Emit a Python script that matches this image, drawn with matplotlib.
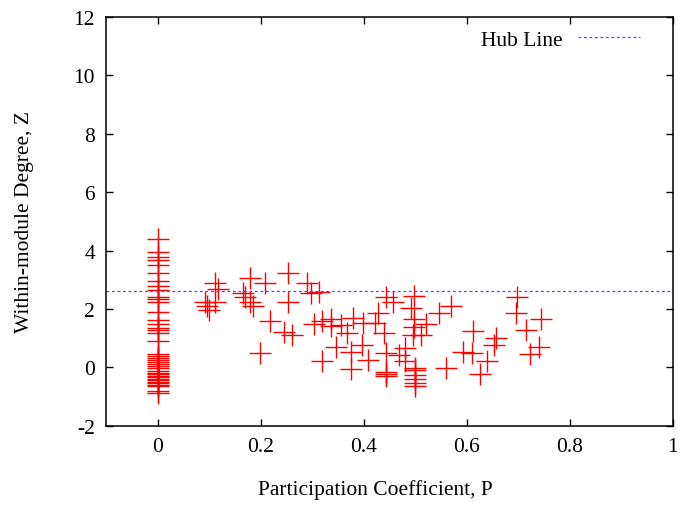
import numpy as np
import matplotlib
matplotlib.use("Agg")
import matplotlib.pyplot as plt

# nodes with P = 0 (single-module nodes)
z_at_zero = [4.38, 3.94, 3.79, 3.66, 3.52, 3.24, 2.95, 2.80, 2.66, 2.40, 2.34, 2.25,
             1.88, 1.63, 1.47, 1.34, 1.29, 1.19, 0.90, 0.45, 0.40, 0.33, 0.26, 0.19,
             0.12, 0.03, -0.03, -0.14, -0.19, -0.24, -0.29, -0.34, -0.39, -0.44,
             -0.49, -0.55, -0.60, -0.65, -0.81, -0.88]

# the other nodes
p_vals = [0.111, 0.117, 0.092, 0.111, 0.095, 0.099, 0.180, 0.208, 0.166, 0.169,
          0.180, 0.185, 0.219, 0.245, 0.198, 0.254, 0.290, 0.298, 0.314, 0.254,
          0.260, 0.304, 0.320, 0.337, 0.337, 0.356, 0.368, 0.380, 0.398, 0.422,
          0.427, 0.346, 0.396, 0.375, 0.375, 0.320, 0.408, 0.443, 0.457, 0.439,
          0.498, 0.492, 0.498, 0.521, 0.498, 0.512, 0.495, 0.546, 0.569, 0.444,
          0.444, 0.444, 0.444, 0.469, 0.480, 0.480, 0.500, 0.500, 0.500, 0.500,
          0.500, 0.500, 0.559, 0.593, 0.698, 0.695, 0.745, 0.716, 0.612, 0.656,
          0.653, 0.611, 0.640, 0.625, 0.741, 0.722]
z_vals = [2.88, 2.67, 2.23, 2.23, 2.10, 1.96, 3.05, 2.88, 2.56, 2.40,
          2.23, 2.10, 1.57, 1.22, 0.48, 3.24, 2.88, 2.56, 2.57, 2.23,
          1.11, 1.48, 1.57, 1.64, 1.41, 1.45, 1.19, 1.68, 1.53, 1.51,
          1.85, 0.71, 0.76, 0.51, -0.07, 0.20, 0.25, 2.40, 2.23, 1.19,
          2.44, 2.04, 1.64, 1.47, 1.37, 1.11, 1.11, 1.85, 2.10, 0.50,
          -0.15, -0.23, -0.31, 0.42, 0.67, 0.20, -0.01, -0.09, -0.26, -0.41,
          -0.55, -0.63, -0.03, 0.51, 2.40, 1.85, 1.65, 1.28, 1.24, 1.02,
          0.76, 0.48, 0.23, -0.23, 0.71, 0.46]

hub_z = 2.6

plt.rcParams['font.family'] = ['Liberation Serif', 'DejaVu Serif']
plt.rcParams['font.size'] = 15.5
plt.rcParams['axes.unicode_minus'] = False

fig = plt.figure(figsize=(6.81, 5.06), dpi=100)
ax = fig.add_axes([0.1557, 0.1567, 0.8323, 0.8077])

p_all = [0.0] * len(z_at_zero) + p_vals
z_all = z_at_zero + z_vals
ax.plot(p_all, z_all, linestyle='none', marker='+', color='red',
        markersize=16.5, markeredgewidth=1.0)
ax.axhline(hub_z, color='#4a4aff', linewidth=0.9, dashes=(2.2, 2.2),
           label='Hub Line')

ax.set_xlim(-0.1, 1.0)
ax.set_ylim(-2, 12)
ax.set_xticks([0, 0.2, 0.4, 0.6, 0.8, 1])
ax.set_xticklabels(['0', '0.2', '0.4', '0.6', '0.8', '1'])
ax.set_yticks(range(-2, 13, 2))
ax.tick_params(direction='in', top=True, right=True, length=5, width=1,
               labelsize=15.5, pad=8)
for s in ax.spines.values():
    s.set_linewidth(1.1)

ax.set_xlabel('Participation Coefficient, P', fontsize=15.5)
ax.set_ylabel('Within-module Degree, Z', fontsize=15.5)
ax.xaxis.set_label_coords(0.476, -0.155)
ax.yaxis.set_label_coords(-0.143, 0.5)
ax.xaxis.label.set_va('center')
ax.yaxis.label.set_va('center')

ax.legend(loc='center right', bbox_to_anchor=(0.942, 0.945), frameon=False,
          markerfirst=False, fontsize=15.5, handlelength=2.9, handletextpad=0.7,
          borderpad=0, borderaxespad=0)

fig.savefig('out.png', dpi=100)
